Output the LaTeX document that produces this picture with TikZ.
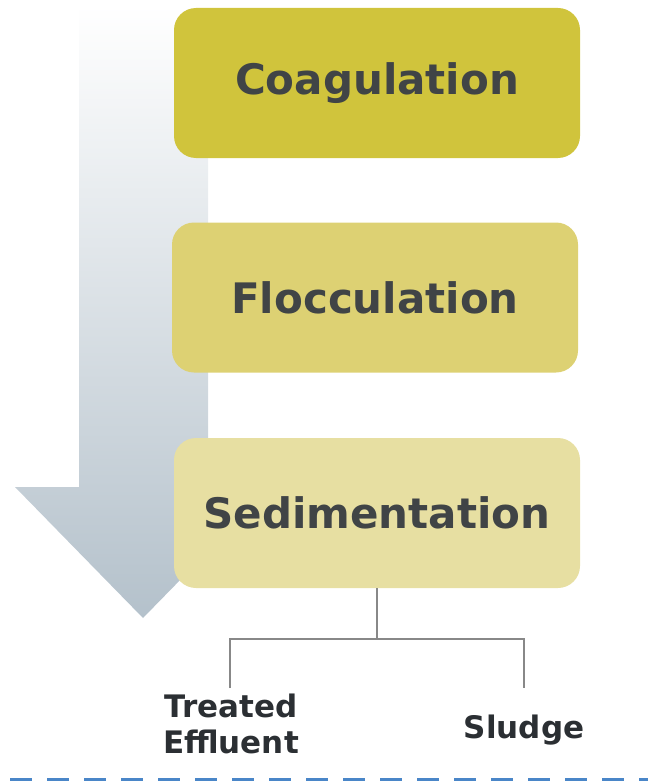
\documentclass[tikz,border=0pt]{standalone}
\usepackage{fontspec}
\setmainfont{DejaVu Sans}
\definecolor{coag}{RGB}{208,196,60}
\definecolor{floc}{RGB}{221,209,115}
\definecolor{sedc}{RGB}{231,223,162}
\definecolor{boxtxt}{RGB}{64,68,70}
\definecolor{lbltxt}{RGB}{43,47,51}
\definecolor{arrbot}{RGB}{180,193,203}
\definecolor{conn}{RGB}{136,136,136}
\definecolor{dashblue}{RGB}{74,134,200}
\begin{document}
\begin{tikzpicture}[x=1pt,y=-1pt,
  stagebox/.style={rounded corners=22pt, minimum width=406pt, minimum height=150pt, inner sep=0pt,
    text=boxtxt, font=\fontsize{42}{46}\selectfont\bfseries},
  lbl/.style={inner sep=0pt, text=lbltxt, font=\fontsize{31}{36}\selectfont\bfseries, align=center},
  connline/.style={draw=conn, line width=1.5pt}]
\useasboundingbox (0,0) rectangle (648,781);
% big gradient arrow
\shade[top color=white, bottom color=arrbot]
  (79,5) -- (208,5) -- (208,487) -- (271,487) -- (143,618) -- (15,487) -- (79,487) -- cycle;
% stages
\node[stagebox, fill=coag] (coag) at (377,83) {Coagulation};
\node[stagebox, fill=floc] (floc) at (375,297.5) {Flocculation};
\node[stagebox, fill=sedc] (sed) at (377,513) {Sedimentation};
% outputs
\node[lbl, anchor=north] (te) at (231,694) {Treated\\Effluent};
\node[lbl, anchor=base] (sl) at (524,738) {Sludge};
\coordinate (tee) at (377,639);
\coordinate (teTop) at (230,688);
\coordinate (slTop) at (524,688);
\draw[connline, line width=2pt] (sed.south) -- (tee);
\draw[connline] (teTop) |- (tee) -| (slTop);
% dashed rule
\coordinate (dl) at (10,779.5);
\coordinate (dr) at (648,779.5);
\draw[dashblue, line width=3pt, dash pattern=on 22pt off 15pt] (dl) -- (dr);
\end{tikzpicture}
\end{document}
